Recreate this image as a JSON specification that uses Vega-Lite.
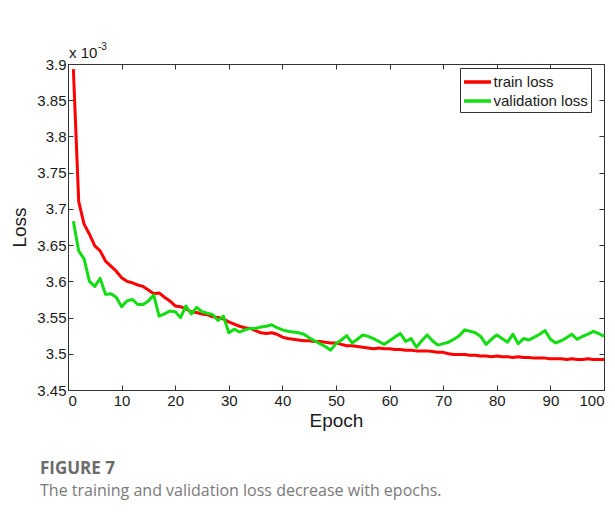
{
  "$schema": "https://vega.github.io/schema/vega-lite/v6.json",
  "width": 536,
  "height": 326,
  "autosize": {"type": "none"},
  "padding": {"left": 68, "top": 64, "right": 11, "bottom": 138},
  "background": "white",
  "config": {
    "view": {"stroke": "#333", "strokeWidth": 1},
    "font": "Liberation Sans",
    "axis": {
      "grid": false,
      "domainColor": "#333",
      "tickColor": "#333",
      "tickSize": -5,
      "labelFont": "Liberation Sans",
      "labelFontSize": 15,
      "labelColor": "#1a1a1a",
      "titleFont": "Liberation Sans",
      "titleFontSize": 19,
      "titleFontWeight": "normal",
      "titleColor": "#1a1a1a"
    }
  },
  "title": {
    "text": "FIGURE 7",
    "subtitle": "The training and validation loss decrease with epochs.",
    "orient": "bottom",
    "anchor": "start",
    "frame": "group",
    "dx": -28,
    "offset": 31,
    "font": "Open Sans",
    "fontSize": 17,
    "fontWeight": "bold",
    "color": "#6b6b6b",
    "subtitleFont": "Open Sans",
    "subtitleFontSize": 16,
    "subtitleColor": "#7a7a7a",
    "subtitlePadding": 5
  },
  "data": {
    "values": [
      {"epoch": 1, "series": "train loss", "loss": 3.893},
      {"epoch": 2, "series": "train loss", "loss": 3.71},
      {"epoch": 3, "series": "train loss", "loss": 3.679},
      {"epoch": 4, "series": "train loss", "loss": 3.665},
      {"epoch": 5, "series": "train loss", "loss": 3.649},
      {"epoch": 6, "series": "train loss", "loss": 3.642},
      {"epoch": 7, "series": "train loss", "loss": 3.628},
      {"epoch": 8, "series": "train loss", "loss": 3.621},
      {"epoch": 9, "series": "train loss", "loss": 3.614},
      {"epoch": 10, "series": "train loss", "loss": 3.605},
      {"epoch": 11, "series": "train loss", "loss": 3.6},
      {"epoch": 12, "series": "train loss", "loss": 3.598},
      {"epoch": 13, "series": "train loss", "loss": 3.595},
      {"epoch": 14, "series": "train loss", "loss": 3.593},
      {"epoch": 15, "series": "train loss", "loss": 3.588},
      {"epoch": 16, "series": "train loss", "loss": 3.583},
      {"epoch": 17, "series": "train loss", "loss": 3.584},
      {"epoch": 18, "series": "train loss", "loss": 3.578},
      {"epoch": 19, "series": "train loss", "loss": 3.573},
      {"epoch": 20, "series": "train loss", "loss": 3.566},
      {"epoch": 21, "series": "train loss", "loss": 3.565},
      {"epoch": 22, "series": "train loss", "loss": 3.562},
      {"epoch": 23, "series": "train loss", "loss": 3.558},
      {"epoch": 24, "series": "train loss", "loss": 3.557},
      {"epoch": 25, "series": "train loss", "loss": 3.555},
      {"epoch": 26, "series": "train loss", "loss": 3.554},
      {"epoch": 27, "series": "train loss", "loss": 3.551},
      {"epoch": 28, "series": "train loss", "loss": 3.55},
      {"epoch": 29, "series": "train loss", "loss": 3.548},
      {"epoch": 30, "series": "train loss", "loss": 3.544},
      {"epoch": 31, "series": "train loss", "loss": 3.541},
      {"epoch": 32, "series": "train loss", "loss": 3.538},
      {"epoch": 33, "series": "train loss", "loss": 3.536},
      {"epoch": 34, "series": "train loss", "loss": 3.535},
      {"epoch": 35, "series": "train loss", "loss": 3.532},
      {"epoch": 36, "series": "train loss", "loss": 3.529},
      {"epoch": 37, "series": "train loss", "loss": 3.528},
      {"epoch": 38, "series": "train loss", "loss": 3.529},
      {"epoch": 39, "series": "train loss", "loss": 3.527},
      {"epoch": 40, "series": "train loss", "loss": 3.523},
      {"epoch": 41, "series": "train loss", "loss": 3.521},
      {"epoch": 42, "series": "train loss", "loss": 3.52},
      {"epoch": 43, "series": "train loss", "loss": 3.519},
      {"epoch": 44, "series": "train loss", "loss": 3.518},
      {"epoch": 45, "series": "train loss", "loss": 3.518},
      {"epoch": 46, "series": "train loss", "loss": 3.517},
      {"epoch": 47, "series": "train loss", "loss": 3.517},
      {"epoch": 48, "series": "train loss", "loss": 3.516},
      {"epoch": 49, "series": "train loss", "loss": 3.515},
      {"epoch": 50, "series": "train loss", "loss": 3.515},
      {"epoch": 51, "series": "train loss", "loss": 3.513},
      {"epoch": 52, "series": "train loss", "loss": 3.511},
      {"epoch": 53, "series": "train loss", "loss": 3.511},
      {"epoch": 54, "series": "train loss", "loss": 3.51},
      {"epoch": 55, "series": "train loss", "loss": 3.509},
      {"epoch": 56, "series": "train loss", "loss": 3.508},
      {"epoch": 57, "series": "train loss", "loss": 3.507},
      {"epoch": 58, "series": "train loss", "loss": 3.508},
      {"epoch": 59, "series": "train loss", "loss": 3.507},
      {"epoch": 60, "series": "train loss", "loss": 3.507},
      {"epoch": 61, "series": "train loss", "loss": 3.506},
      {"epoch": 62, "series": "train loss", "loss": 3.506},
      {"epoch": 63, "series": "train loss", "loss": 3.505},
      {"epoch": 64, "series": "train loss", "loss": 3.505},
      {"epoch": 65, "series": "train loss", "loss": 3.504},
      {"epoch": 66, "series": "train loss", "loss": 3.504},
      {"epoch": 67, "series": "train loss", "loss": 3.504},
      {"epoch": 68, "series": "train loss", "loss": 3.503},
      {"epoch": 69, "series": "train loss", "loss": 3.502},
      {"epoch": 70, "series": "train loss", "loss": 3.502},
      {"epoch": 71, "series": "train loss", "loss": 3.5},
      {"epoch": 72, "series": "train loss", "loss": 3.499},
      {"epoch": 73, "series": "train loss", "loss": 3.499},
      {"epoch": 74, "series": "train loss", "loss": 3.499},
      {"epoch": 75, "series": "train loss", "loss": 3.498},
      {"epoch": 76, "series": "train loss", "loss": 3.498},
      {"epoch": 77, "series": "train loss", "loss": 3.497},
      {"epoch": 78, "series": "train loss", "loss": 3.497},
      {"epoch": 79, "series": "train loss", "loss": 3.496},
      {"epoch": 80, "series": "train loss", "loss": 3.497},
      {"epoch": 81, "series": "train loss", "loss": 3.496},
      {"epoch": 82, "series": "train loss", "loss": 3.496},
      {"epoch": 83, "series": "train loss", "loss": 3.495},
      {"epoch": 84, "series": "train loss", "loss": 3.496},
      {"epoch": 85, "series": "train loss", "loss": 3.495},
      {"epoch": 86, "series": "train loss", "loss": 3.495},
      {"epoch": 87, "series": "train loss", "loss": 3.494},
      {"epoch": 88, "series": "train loss", "loss": 3.494},
      {"epoch": 89, "series": "train loss", "loss": 3.494},
      {"epoch": 90, "series": "train loss", "loss": 3.493},
      {"epoch": 91, "series": "train loss", "loss": 3.493},
      {"epoch": 92, "series": "train loss", "loss": 3.493},
      {"epoch": 93, "series": "train loss", "loss": 3.492},
      {"epoch": 94, "series": "train loss", "loss": 3.493},
      {"epoch": 95, "series": "train loss", "loss": 3.492},
      {"epoch": 96, "series": "train loss", "loss": 3.492},
      {"epoch": 97, "series": "train loss", "loss": 3.493},
      {"epoch": 98, "series": "train loss", "loss": 3.492},
      {"epoch": 99, "series": "train loss", "loss": 3.492},
      {"epoch": 100, "series": "train loss", "loss": 3.492},
      {"epoch": 1, "series": "validation loss", "loss": 3.683},
      {"epoch": 2, "series": "validation loss", "loss": 3.642},
      {"epoch": 3, "series": "validation loss", "loss": 3.631},
      {"epoch": 4, "series": "validation loss", "loss": 3.6},
      {"epoch": 5, "series": "validation loss", "loss": 3.593},
      {"epoch": 6, "series": "validation loss", "loss": 3.604},
      {"epoch": 7, "series": "validation loss", "loss": 3.582},
      {"epoch": 8, "series": "validation loss", "loss": 3.583},
      {"epoch": 9, "series": "validation loss", "loss": 3.578},
      {"epoch": 10, "series": "validation loss", "loss": 3.565},
      {"epoch": 11, "series": "validation loss", "loss": 3.573},
      {"epoch": 12, "series": "validation loss", "loss": 3.575},
      {"epoch": 13, "series": "validation loss", "loss": 3.568},
      {"epoch": 14, "series": "validation loss", "loss": 3.568},
      {"epoch": 15, "series": "validation loss", "loss": 3.573},
      {"epoch": 16, "series": "validation loss", "loss": 3.581},
      {"epoch": 17, "series": "validation loss", "loss": 3.552},
      {"epoch": 18, "series": "validation loss", "loss": 3.555},
      {"epoch": 19, "series": "validation loss", "loss": 3.559},
      {"epoch": 20, "series": "validation loss", "loss": 3.558},
      {"epoch": 21, "series": "validation loss", "loss": 3.55},
      {"epoch": 22, "series": "validation loss", "loss": 3.566},
      {"epoch": 23, "series": "validation loss", "loss": 3.555},
      {"epoch": 24, "series": "validation loss", "loss": 3.564},
      {"epoch": 25, "series": "validation loss", "loss": 3.558},
      {"epoch": 26, "series": "validation loss", "loss": 3.556},
      {"epoch": 27, "series": "validation loss", "loss": 3.554},
      {"epoch": 28, "series": "validation loss", "loss": 3.546},
      {"epoch": 29, "series": "validation loss", "loss": 3.552},
      {"epoch": 30, "series": "validation loss", "loss": 3.529},
      {"epoch": 31, "series": "validation loss", "loss": 3.534},
      {"epoch": 32, "series": "validation loss", "loss": 3.53},
      {"epoch": 33, "series": "validation loss", "loss": 3.533},
      {"epoch": 34, "series": "validation loss", "loss": 3.535},
      {"epoch": 35, "series": "validation loss", "loss": 3.535},
      {"epoch": 36, "series": "validation loss", "loss": 3.537},
      {"epoch": 37, "series": "validation loss", "loss": 3.538},
      {"epoch": 38, "series": "validation loss", "loss": 3.54},
      {"epoch": 39, "series": "validation loss", "loss": 3.536},
      {"epoch": 40, "series": "validation loss", "loss": 3.533},
      {"epoch": 41, "series": "validation loss", "loss": 3.531},
      {"epoch": 42, "series": "validation loss", "loss": 3.53},
      {"epoch": 43, "series": "validation loss", "loss": 3.529},
      {"epoch": 44, "series": "validation loss", "loss": 3.527},
      {"epoch": 45, "series": "validation loss", "loss": 3.522},
      {"epoch": 46, "series": "validation loss", "loss": 3.518},
      {"epoch": 47, "series": "validation loss", "loss": 3.514},
      {"epoch": 48, "series": "validation loss", "loss": 3.51},
      {"epoch": 49, "series": "validation loss", "loss": 3.505},
      {"epoch": 50, "series": "validation loss", "loss": 3.514},
      {"epoch": 51, "series": "validation loss", "loss": 3.519},
      {"epoch": 52, "series": "validation loss", "loss": 3.525},
      {"epoch": 53, "series": "validation loss", "loss": 3.515},
      {"epoch": 54, "series": "validation loss", "loss": 3.52},
      {"epoch": 55, "series": "validation loss", "loss": 3.526},
      {"epoch": 56, "series": "validation loss", "loss": 3.524},
      {"epoch": 57, "series": "validation loss", "loss": 3.521},
      {"epoch": 58, "series": "validation loss", "loss": 3.517},
      {"epoch": 59, "series": "validation loss", "loss": 3.513},
      {"epoch": 60, "series": "validation loss", "loss": 3.518},
      {"epoch": 61, "series": "validation loss", "loss": 3.523},
      {"epoch": 62, "series": "validation loss", "loss": 3.528},
      {"epoch": 63, "series": "validation loss", "loss": 3.517},
      {"epoch": 64, "series": "validation loss", "loss": 3.521},
      {"epoch": 65, "series": "validation loss", "loss": 3.509},
      {"epoch": 66, "series": "validation loss", "loss": 3.518},
      {"epoch": 67, "series": "validation loss", "loss": 3.526},
      {"epoch": 68, "series": "validation loss", "loss": 3.518},
      {"epoch": 69, "series": "validation loss", "loss": 3.512},
      {"epoch": 70, "series": "validation loss", "loss": 3.514},
      {"epoch": 71, "series": "validation loss", "loss": 3.516},
      {"epoch": 72, "series": "validation loss", "loss": 3.52},
      {"epoch": 73, "series": "validation loss", "loss": 3.525},
      {"epoch": 74, "series": "validation loss", "loss": 3.533},
      {"epoch": 75, "series": "validation loss", "loss": 3.531},
      {"epoch": 76, "series": "validation loss", "loss": 3.529},
      {"epoch": 77, "series": "validation loss", "loss": 3.524},
      {"epoch": 78, "series": "validation loss", "loss": 3.513},
      {"epoch": 79, "series": "validation loss", "loss": 3.52},
      {"epoch": 80, "series": "validation loss", "loss": 3.526},
      {"epoch": 81, "series": "validation loss", "loss": 3.521},
      {"epoch": 82, "series": "validation loss", "loss": 3.516},
      {"epoch": 83, "series": "validation loss", "loss": 3.527},
      {"epoch": 84, "series": "validation loss", "loss": 3.514},
      {"epoch": 85, "series": "validation loss", "loss": 3.521},
      {"epoch": 86, "series": "validation loss", "loss": 3.519},
      {"epoch": 87, "series": "validation loss", "loss": 3.523},
      {"epoch": 88, "series": "validation loss", "loss": 3.527},
      {"epoch": 89, "series": "validation loss", "loss": 3.532},
      {"epoch": 90, "series": "validation loss", "loss": 3.52},
      {"epoch": 91, "series": "validation loss", "loss": 3.515},
      {"epoch": 92, "series": "validation loss", "loss": 3.518},
      {"epoch": 93, "series": "validation loss", "loss": 3.522},
      {"epoch": 94, "series": "validation loss", "loss": 3.527},
      {"epoch": 95, "series": "validation loss", "loss": 3.52},
      {"epoch": 96, "series": "validation loss", "loss": 3.524},
      {"epoch": 97, "series": "validation loss", "loss": 3.527},
      {"epoch": 98, "series": "validation loss", "loss": 3.531},
      {"epoch": 99, "series": "validation loss", "loss": 3.528},
      {"epoch": 100, "series": "validation loss", "loss": 3.524}
    ]
  },
  "layer": [
    {
      "mark": {"type": "line", "strokeWidth": 3, "strokeJoin": "round"},
      "encoding": {
        "x": {
          "field": "epoch", "type": "quantitative",
          "scale": {"domain": [0, 100], "nice": false},
          "axis": {"orient": "bottom", "values": [0, 10, 20, 30, 40, 50, 60, 70, 80, 90, 100], "format": "d", "title": "Epoch", "labelPadding": 8, "titlePadding": 3}
        },
        "y": {
          "field": "loss", "type": "quantitative",
          "scale": {"domain": [3.45, 3.9], "nice": false, "zero": false},
          "axis": {"orient": "left", "values": [3.45, 3.5, 3.55, 3.6, 3.65, 3.7, 3.75, 3.8, 3.85, 3.9], "format": "~g", "title": "Loss", "labelPadding": 7, "titlePadding": 7}
        },
        "color": {
          "field": "series", "type": "nominal",
          "scale": {"domain": ["train loss", "validation loss"], "range": ["#ff0000", "#11dd11"]},
          "legend": {
            "title": null, "orient": "none", "legendX": 392, "legendY": 4,
            "fillColor": "white", "strokeColor": "#333", "padding": 3,
            "symbolType": "M-1.5,0H1.5", "symbolSize": 324, "symbolStrokeWidth": 3.5,
            "symbolOffset": 3.5,
            "labelFont": "Liberation Sans", "labelFontSize": 15, "labelColor": "#1a1a1a",
            "labelOffset": 5, "rowPadding": 0
          }
        }
      }
    },
    {
      "mark": {"type": "line", "strokeOpacity": 0},
      "encoding": {
        "x": {
          "field": "epoch", "type": "quantitative",
          "axis": {"orient": "top", "values": [0, 10, 20, 30, 40, 50, 60, 70, 80, 90, 100], "labels": false, "title": null}
        },
        "y": {
          "field": "loss", "type": "quantitative",
          "axis": {"orient": "right", "values": [3.45, 3.5, 3.55, 3.6, 3.65, 3.7, 3.75, 3.8, 3.85, 3.9], "labels": false, "title": null}
        },
        "detail": {"field": "series"}
      }
    },
    {
      "data": {"values": [{"label": "x 10"}]},
      "mark": {"type": "text", "align": "left", "baseline": "alphabetic", "dx": 1, "dy": -6, "font": "Liberation Sans", "fontSize": 15, "color": "#1a1a1a"},
      "encoding": {
        "x": {"datum": 0, "type": "quantitative", "axis": null},
        "y": {"datum": 3.9, "type": "quantitative", "axis": null},
        "text": {"field": "label"}
      }
    },
    {
      "data": {"values": [{"label": "-3"}]},
      "mark": {"type": "text", "align": "left", "baseline": "alphabetic", "dx": 30, "dy": -14, "font": "Liberation Sans", "fontSize": 10, "color": "#1a1a1a"},
      "encoding": {
        "x": {"datum": 0, "type": "quantitative", "axis": null},
        "y": {"datum": 3.9, "type": "quantitative", "axis": null},
        "text": {"field": "label"}
      }
    }
  ]
}
